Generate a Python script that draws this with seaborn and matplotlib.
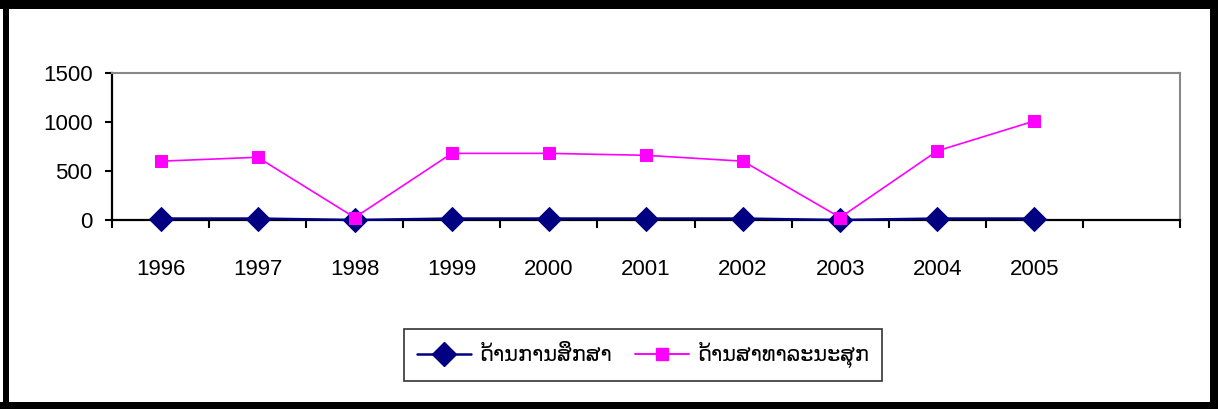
import matplotlib
matplotlib.use('Agg')
import matplotlib.pyplot as plt
import seaborn as sns
import pandas as pd
from matplotlib.patches import Rectangle

# chart data
years = ['1996', '1997', '1998', '1999', '2000', '2001', '2002', '2003', '2004', '2005']
education = [15, 15, 0, 15, 15, 15, 15, 0, 15, 15]
health = [600, 640, 25, 680, 680, 660, 600, 25, 705, 1010]
series_names = ['ດ້ານການສຶກສາ', 'ດ້ານສາທາລະນະສຸກ']
y_ticks = [0, 500, 1000, 1500]

sns.set_style('white')
plt.rcParams['font.family'] = ['Liberation Sans', 'DejaVu Sans']
plt.rcParams['text.color'] = 'black'
plt.rcParams['xtick.color'] = 'black'
plt.rcParams['ytick.color'] = 'black'

df = pd.DataFrame({
    'year': years * 2,
    'value': education + health,
    'series': [series_names[0]] * len(years) + [series_names[1]] * len(years),
})

fig = plt.figure(figsize=(12.18, 4.09), dpi=100)
ax = fig.add_axes([112 / 1218, 189 / 409, 1068 / 1218, 147 / 409])

sns.lineplot(data=df, x='year', y='value', hue='series', style='series',
             palette=['#000080', '#FF00FF'], markers=['D', 's'], dashes=False,
             markersize=0, ax=ax, legend=False)
# restyle the seaborn lines
lines = ax.get_lines()
lines[0].set(linewidth=1.8, marker='D', markersize=12, markerfacecolor='#000080',
             markeredgecolor='#000080', clip_on=False, zorder=3)
lines[1].set(linewidth=1.2, marker='s', markersize=8, markerfacecolor='#FF00FF',
             markeredgecolor='#FF00FF', clip_on=False, zorder=4)

ax.set_xlim(-0.5, len(years) + 0.5)
ax.set_ylim(0, 1500)
ax.set_yticks(y_ticks)
ax.set_yticklabels([str(t) for t in y_ticks])
ax.set_xticks([i - 0.5 for i in range(len(years) + 2)])
ax.set_xticklabels([])
ax.set_xticks(range(len(years)), minor=True)
ax.set_xticklabels(years, minor=True)
ax.tick_params(axis='x', which='major', direction='out', length=6, width=1.5, color='black', bottom=True)
ax.tick_params(axis='x', which='minor', length=0, pad=28, labelsize=16, labelcolor='black', bottom=True)
ax.tick_params(axis='y', direction='out', length=5, width=1.5, color='black', pad=9, labelsize=16,
               labelcolor='black', left=True)
ax.set_xlabel('')
ax.set_ylabel('')

for side in ['left', 'bottom']:
    ax.spines[side].set_color('black')
    ax.spines[side].set_linewidth(1.6)
for side in ['top', 'right']:
    ax.spines[side].set_color('#888888')
    ax.spines[side].set_linewidth(1.5)

handles = [
    plt.Line2D([], [], color='#000080', lw=1.8, marker='D', markersize=12),
    plt.Line2D([], [], color='#FF00FF', lw=1.4, marker='s', markersize=8),
]
leg = fig.legend(handles, series_names, loc='center', ncol=2,
                 bbox_to_anchor=(643 / 1218, 1 - 355 / 409), fontsize=15,
                 frameon=True, fancybox=False, handlelength=2.6, columnspacing=1.1,
                 handletextpad=0.4, borderpad=0.6, labelcolor='black')
leg.get_frame().set_edgecolor('black')
leg.get_frame().set_linewidth(1.2)

# thick outer frame
W, H = 1218, 409
for x0, y0, w, h in [(3, 0, 6, 409), (0, 402, 1218, 7), (1210, 0, 8, 409), (0, 0, 1218, 9)]:
    fig.add_artist(Rectangle((x0 / W, 1 - (y0 + h) / H), w / W, h / H,
                             transform=fig.transFigure, color='black', lw=0))

fig.savefig('out.png', dpi=100)
